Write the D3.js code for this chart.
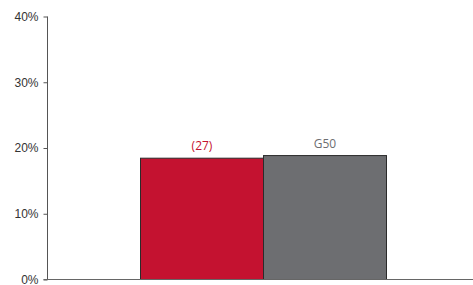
<!DOCTYPE html>
<html>
<head>
<meta charset="utf-8">
<script src="https://cdn.jsdelivr.net/npm/d3@7"></script>
<style>
  body { margin: 0; background: #fff; }
  svg { display: block; font-family: "Open Sans", sans-serif; }
  .tick text { font-size: 12px; fill: #333; }
  .bar-label { font-size: 12px; text-anchor: middle; }
</style>
</head>
<body>
<div id="chart"></div>
<script>
// chart values
var categories = ['(27)', 'G50'];
var values = [0.1845, 0.1885];
var barColors = ['#c41230', '#6d6e71'];
var labelColors = ['#c41230', '#6d6e71'];
var yTicks = [0, 0.1, 0.2, 0.3, 0.4];

var width = 473, height = 285;
var axisX = 47.5, axisY = 279.5, axisTop = 16.5;

var svg = d3.select('#chart').append('svg')
  .attr('width', width)
  .attr('height', height);

var y = d3.scaleLinear()
  .domain([0, 0.4])
  .range([axisY, axisTop]);

var x = d3.scaleBand()
  .domain(categories)
  .range([140.5, 386.5])
  .padding(0);

// bars
svg.selectAll('.bar')
  .data(values)
  .enter()
  .append('rect')
  .attr('class', 'bar')
  .attr('x', function(d, i) { return x(categories[i]); })
  .attr('y', function(d) { return y(d); })
  .attr('width', x.bandwidth())
  .attr('height', function(d) { return axisY - y(d); })
  .style('fill', function(d, i) { return barColors[i]; })
  .style('stroke', '#2b2b2b')
  .style('stroke-width', 1);

// labels over bars
svg.selectAll('.bar-label')
  .data(values)
  .enter()
  .append('text')
  .attr('class', 'bar-label')
  .attr('x', function(d, i) { return x(categories[i]) + x.bandwidth() / 2; })
  .attr('y', function(d) { return y(d) - 8; })
  .style('fill', function(d, i) { return labelColors[i]; })
  .text(function(d, i) { return categories[i]; });

// y axis
var yAxis = d3.axisLeft(y)
  .tickValues(yTicks)
  .tickSize(4)
  .tickPadding(5)
  .tickFormat(d3.format('.0%'));

var gy = svg.append('g')
  .attr('transform', 'translate(' + axisX + ',0)')
  .call(yAxis);
gy.select('.domain').remove();
gy.selectAll('.tick line').style('stroke', '#555');

svg.append('line')
  .attr('x1', axisX).attr('x2', axisX)
  .attr('y1', axisTop).attr('y2', axisY)
  .style('stroke', '#555');

// x baseline
svg.append('line')
  .attr('x1', axisX - 4).attr('x2', width)
  .attr('y1', axisY).attr('y2', axisY)
  .style('stroke', '#666');
</script>
</body>
</html>
